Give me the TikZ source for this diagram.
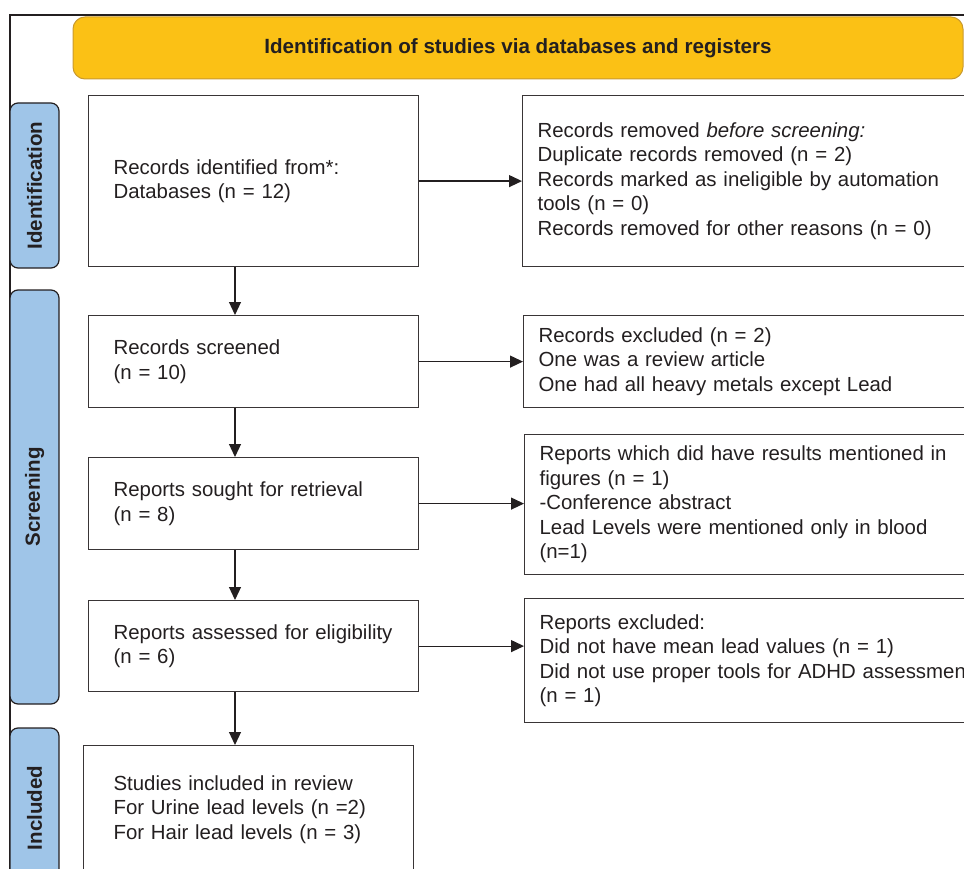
\documentclass[tikz,border=0pt]{standalone}
\usepackage{fontspec}
\setmainfont{Liberation Sans}
\usetikzlibrary{arrows.meta}
\definecolor{txtgray}{HTML}{231F20}
\definecolor{hdryellow}{HTML}{FBC115}
\definecolor{hdrborder}{HTML}{C99A2E}
\definecolor{sideblue}{HTML}{9FC5E8}

\begin{document}
\begin{tikzpicture}[x=1pt,y=-1pt,
boxnode/.style={rectangle, draw=txtgray!90, line width=1.2pt, anchor=north west, align=left, inner xsep=25pt, text width=280pt, text=txtgray, font=\fontsize{20.4}{24.5}\selectfont},
sidenode/.style={boxnode, inner xsep=15pt, text width=470pt},
phasenode/.style={rectangle, rounded corners=8pt, draw=txtgray, fill=sideblue, line width=1.2pt, rotate=90, minimum height=49pt, inner sep=0pt, text=txtgray, font=\fontsize{20.5}{22}\selectfont\bfseries},
arr/.style={line width=1.2pt, txtgray, -{Triangle[length=13pt,width=12pt]}}
]
    \useasboundingbox (0,0) rectangle (964,869);
    \clip (0,0) rectangle (964,869);

    \draw[line width=1.2pt, txtgray] (10,869) -- (10,15) -- (970,15);

    \node[rectangle, rounded corners=12pt, draw=hdrborder, fill=hdryellow, line width=1pt, minimum width=890pt, minimum height=62pt, text=txtgray, font=\fontsize{20.6}{22}\selectfont\bfseries] (hdr) at (518,48) {Identification of studies via databases and registers};

    \node[phasenode, minimum width=165pt] (ph1) at (34.5,185.5) {Identification};
    \node[phasenode, minimum width=414pt] (ph2) at (34.5,497) {Screening};
    \node[phasenode, minimum width=160pt] (ph3) at (34.5,808) {Included};

    \node[boxnode, minimum height=171pt] (b1) at (88,95) {Records identified from*:\\Databases (n = 12)};
    \node[boxnode, minimum height=92pt] (b2) at (88,315) {Records screened\\(n = 10)};
    \node[boxnode, minimum height=92pt] (b3) at (88,457) {Reports sought for retrieval\\(n = 8)};
    \node[boxnode, minimum height=91pt] (b4) at (88,600) {Reports assessed for eligibility\\(n = 6)};
    \node[boxnode, inner xsep=30pt, text width=270pt, minimum height=128pt] (b5) at (83,745) {Studies included in review\\For Urine lead levels (n =2)\\For Hair lead levels (n = 3)};

    \node[sidenode, minimum height=171pt] (r1) at (522,95) {Records removed \textit{before screening:}\\Duplicate records removed (n = 2)\\Records marked as ineligible by automation\\tools (n = 0)\\Records removed for other reasons (n = 0)};
    \node[sidenode, minimum height=92pt] (r2) at (523,315) {Records excluded (n = 2)\\One was a review article\\One had all heavy metals except Lead};
    \node[sidenode, minimum height=140pt] (r3) at (524,434) {Reports which did have results mentioned in\\figures (n = 1)\\-Conference abstract\\Lead Levels were mentioned only in blood\\(n=1)};
    \node[sidenode, minimum height=124pt] (r4) at (524,598) {Reports excluded:\\Did not have mean lead values (n = 1)\\Did not use proper tools for ADHD assessment\\(n = 1)};

    \coordinate (spine) at (235,0);
    \draw[arr] (spine |- b1.south) -- (spine |- b2.north);
    \draw[arr] (spine |- b2.south) -- (spine |- b3.north);
    \draw[arr] (spine |- b3.south) -- (spine |- b4.north);
    \draw[arr] (spine |- b4.south) -- (spine |- b5.north);

    \draw[arr] (b1.east) -- (b1.east -| r1.west);
    \draw[arr] (b2.east) -- (b2.east -| r2.west);
    \draw[arr] (b3.east) -- (b3.east -| r3.west);
    \draw[arr] (b4.east) -- (b4.east -| r4.west);
\end{tikzpicture}
\end{document}
